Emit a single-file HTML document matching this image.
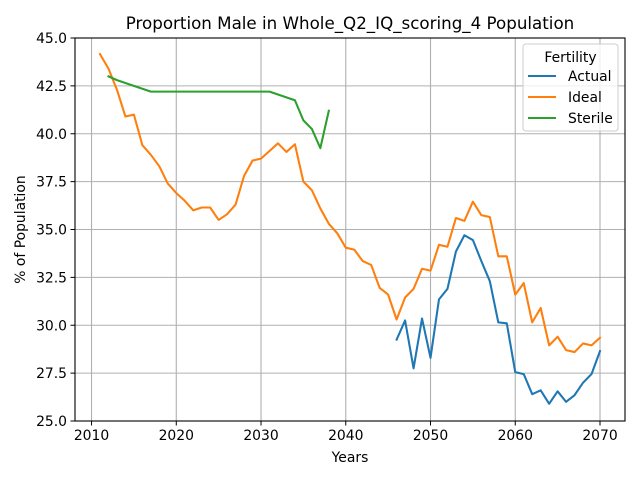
<!DOCTYPE html>
<html><head><meta charset="utf-8"><style>
body{margin:0;background:#fff;}
svg text{font-family:"DejaVu Sans","Liberation Sans",sans-serif;fill:#000;}
</style></head><body>
<svg id="c" width="640" height="480" xmlns="http://www.w3.org/2000/svg"></svg>
<script>
const years = [];
for (let y = 2011; y <= 2070; y++) years.push(y);
const idealValues = [44.16,43.4,42.3,40.9,41.0,39.4,38.9,38.3,37.4,36.9,36.5,36.0,36.15,36.15,35.5,35.8,36.3,37.8,38.6,38.7,39.1,39.5,39.05,39.45,37.5,37.05,36.1,35.3,34.8,34.05,33.95,33.35,33.15,31.95,31.6,30.3,31.45,31.9,32.95,32.85,34.2,34.1,35.6,35.45,36.45,35.75,35.65,33.6,33.6,31.6,32.2,30.15,30.9,28.95,29.4,28.7,28.6,29.05,28.95,29.35];
const actualYears = [2046,2047,2048,2049,2050,2051,2052,2053,2054,2055,2056,2057,2058,2059,2060,2061,2062,2063,2064,2065,2066,2067,2068,2069,2070];
const actualValues = [29.25,30.25,27.75,30.35,28.3,31.35,31.9,33.85,34.7,34.45,33.35,32.3,30.15,30.1,27.55,27.45,26.4,26.6,25.9,26.55,26.0,26.35,27.0,27.45,28.65];
const sterileYears = [2012,2013,2014,2015,2016,2017,2018,2019,2020,2021,2022,2023,2024,2025,2026,2027,2028,2029,2030,2031,2032,2033,2034,2035,2036,2037,2038];
const sterileValues = [43.0,42.8,42.65,42.5,42.35,42.2,42.2,42.2,42.2,42.2,42.2,42.2,42.2,42.2,42.2,42.2,42.2,42.2,42.2,42.2,42.05,41.9,41.75,40.7,40.25,39.25,41.2];
const xTicks = [2010,2020,2030,2040,2050,2060,2070];
const yTicks = [25.0,27.5,30.0,32.5,35.0,37.5,40.0,42.5,45.0];

const L=75,R=625,T=38,B=421;
const xMin=2008.05,xMax=2072.95,yMin=25,yMax=45;
const xs=v=>L+(v-xMin)/(xMax-xMin)*(R-L);
const ys=v=>B-(v-yMin)/(yMax-yMin)*(B-T);
const svg=document.getElementById('c');
const NS='http://www.w3.org/2000/svg';
function mk(tag,attrs,parent){const e=document.createElementNS(NS,tag);for(const k in attrs)e.setAttribute(k,attrs[k]);(parent||svg).appendChild(e);return e;}

xTicks.forEach(t=>{
  const l=mk('line',{x1:xs(t),x2:xs(t),y1:T,y2:B,stroke:'#b0b0b0','stroke-width':1.1});
  
  
  mk('line',{x1:xs(t),x2:xs(t),y1:B,y2:B+4.5,stroke:'#000','stroke-width':1});
  const tx=mk('text',{x:xs(t),y:B+19,'text-anchor':'middle','font-size':13.9});
  tx.textContent=t;
  
  
});
yTicks.forEach(t=>{
  const l=mk('line',{x1:L,x2:R,y1:ys(t),y2:ys(t),stroke:'#b0b0b0','stroke-width':1.1});
  
  
  mk('line',{x1:L-4.5,x2:L,y1:ys(t),y2:ys(t),stroke:'#000','stroke-width':1});
  const tx=mk('text',{x:L-8,y:ys(t)+5,'text-anchor':'end','font-size':13.9});
  tx.textContent=t.toFixed(1);
  
  
});

function series(xv,yv,color,name){
  const p=mk('polyline',{points:xv.map((x,i)=>xs(x)+','+ys(yv[i])).join(' '),fill:'none',stroke:color,'stroke-width':2.08,'stroke-linejoin':'round','stroke-linecap':'square'});
  
  
}
series(actualYears,actualValues,'#1f77b4','actual-line');
series(years,idealValues,'#ff7f0e','ideal-line');
series(sterileYears,sterileValues,'#2ca02c','sterile-line');

const frame=mk('rect',{x:L,y:T,width:R-L,height:B-T,fill:'none',stroke:'#000','stroke-width':1.1});



const title=mk('text',{x:(L+R)/2,y:29,'text-anchor':'middle','font-size':16.7});
title.textContent='Proportion Male in Whole_Q2_IQ_scoring_4 Population';


const xl=mk('text',{x:(L+R)/2,y:462,'text-anchor':'middle','font-size':13.9});
xl.textContent='Years';


const yl=mk('text',{x:0,y:0,'text-anchor':'middle','font-size':13.9,transform:'translate(25,'+((T+B)/2)+') rotate(-90)'});
yl.textContent='% of Population';



const lg=mk('g',{});


mk('rect',{x:523,y:44,width:95,height:87,rx:3,fill:'#fff','fill-opacity':0.8,stroke:'#ccc','stroke-width':1},lg);
const lt=mk('text',{x:570.5,y:62,'text-anchor':'middle','font-size':13.9},lg);
lt.textContent='Fertility';
const entries=[['Actual','#1f77b4'],['Ideal','#ff7f0e'],['Sterile','#2ca02c']];
entries.forEach((e,i)=>{
  const g=mk('g',{},lg);
  
  
  const y=76+i*21;
  mk('line',{x1:528,x2:556,y1:y,y2:y,stroke:e[1],'stroke-width':2.08},g);
  const t=mk('text',{x:568,y:y+5,'font-size':13.9},g);
  t.textContent=e[0];
});
</script>
</body></html>
